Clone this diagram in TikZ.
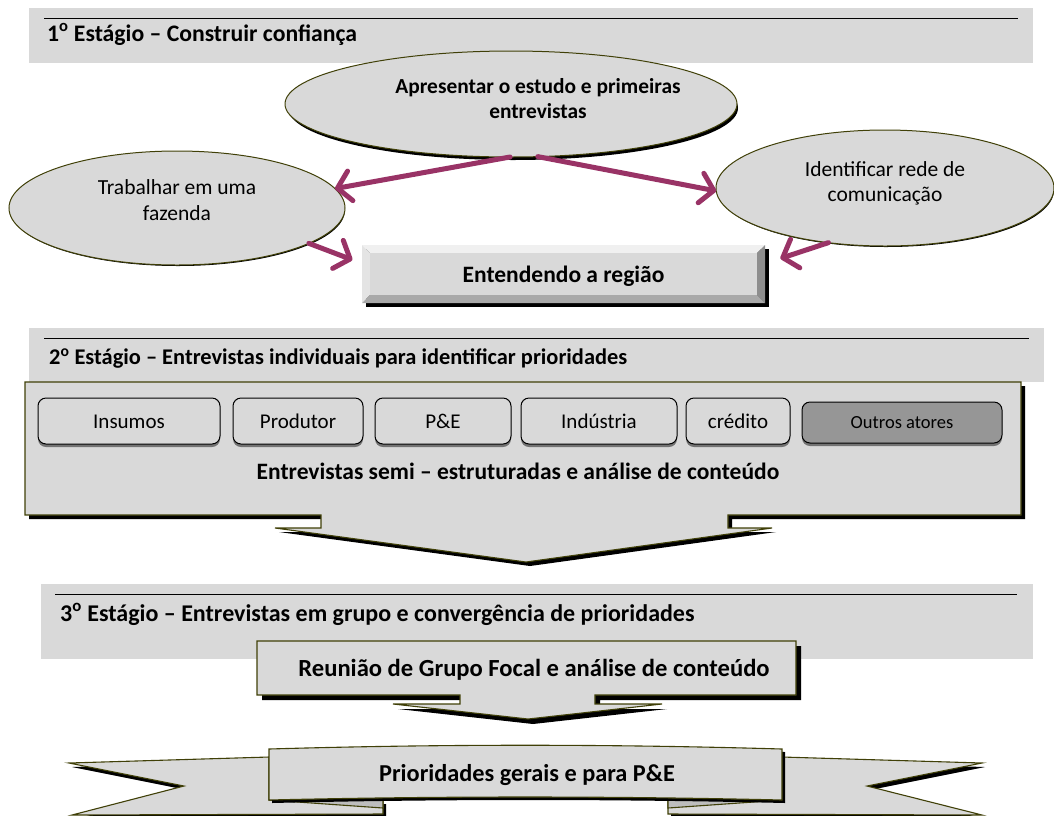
\documentclass[tikz,border=0pt]{standalone}
\usepackage{fontspec}
\setmainfont{Carlito}
\usetikzlibrary{arrows.meta,shapes.geometric}
\definecolor{bg}{HTML}{D9D9D9}
\definecolor{olv}{HTML}{404008}
\definecolor{plum}{HTML}{993366}
\definecolor{dkbox}{HTML}{969696}
\definecolor{bevtop}{HTML}{F0F0F0}
\definecolor{bevleft}{HTML}{E4E4E4}
\definecolor{bevright}{HTML}{8E8E8E}
\definecolor{bevbot}{HTML}{A9A9A9}
\definecolor{foldc}{HTML}{BDBDBD}
\begin{document}
\begin{tikzpicture}[x=1pt,y=-1pt,
  hdrtxt/.style={font=\fontsize{23.5}{28}\selectfont\bfseries, anchor=base west, inner sep=0pt},
  boldtxt/.style={font=\fontsize{23.5}{28}\selectfont\bfseries, inner sep=0pt},
  ell/.style={ellipse, draw=olv, line width=1pt, fill=bg, inner sep=0pt, outer sep=0pt},
  eltxt/.style={font=\fontsize{21.5}{26}\selectfont, anchor=base, inner sep=0pt},
  eltxtb/.style={font=\fontsize{21.4}{26}\selectfont\bfseries, anchor=base, inner sep=0pt},
  rbox/.style={draw=black, line width=1pt, rounded corners=8pt, fill=bg, inner sep=0pt,
    font=\fontsize{21}{25}\selectfont, text height=14pt, text depth=0pt,
    preaction={draw=none, fill=black!55, transform canvas={yshift=-3pt}}},
  conn/.style={draw=plum, line width=5pt, line cap=round,
    -{Straight Barb[length=13pt,width=30pt,round]}},
  blk/.style={fill=bg, draw=olv, line width=1.1pt, line join=miter},
  shad/.style={fill=black},
  band/.style={fill=bg},
  rule/.style={draw=black, line width=1pt}
]
\useasboundingbox (0,0) rectangle (1054,815);

% ---------- Stage 1 header ----------
\fill[band] (29,8) rectangle (1033,63);
\draw[rule] (44,18) -- (1018,18);
\node[hdrtxt, font=\fontsize{23.7}{28}\selectfont\bfseries] (h1) at (47,41) {1\textsuperscript{o} Estágio – Construir confiança};

% ---------- Ellipses ----------
\fill[shad] (513,108) ellipse [x radius=225, y radius=52];
\node[ell, minimum width=452pt, minimum height=106pt] (top) at (511,104) {};
\node[eltxtb] (topA) at (538,93) {Apresentar o estudo e primeiras};
\node[eltxtb] (topB) at (538,118) {entrevistas};

\fill[shad] (178,210) ellipse [x radius=167, y radius=56];
\node[ell, minimum width=336pt, minimum height=114pt] (left) at (177,208) {};
\node[eltxt] (leftA) at (177,194) {Trabalhar em uma};
\node[eltxt] (leftB) at (177,220) {fazenda};

\fill[shad] (886,190) ellipse [x radius=168, y radius=57];
\node[ell, minimum width=338pt, minimum height=116pt] (right) at (885,188) {};
\node[eltxt] (rightA) at (885,176) {Identificar rede de};
\node[eltxt] (rightB) at (885,201) {comunicação};

% ---------- Beveled box ----------
\fill[shad] (366,249) rectangle (769,307);
\fill[bevtop] (362,245) -- (765,245) -- (757,253) -- (370,253) -- cycle;
\fill[bevleft] (362,245) -- (370,253) -- (370,295) -- (362,303) -- cycle;
\fill[bevright] (765,245) -- (765,303) -- (757,295) -- (757,253) -- cycle;
\fill[bevbot] (362,303) -- (765,303) -- (757,295) -- (370,295) -- cycle;
\fill[bg] (370,253) rectangle (757,295);
\node[minimum width=403pt, minimum height=58pt, inner sep=0pt,
  font=\fontsize{23.5}{28}\selectfont\bfseries, text height=16pt, text depth=0pt] (ent) at (563.5,274) {Entendendo a região};

% ---------- Connectors ----------
\draw[conn] (top.269) -- (left.7);
\draw[conn] (top.297) -- (right.181);
\draw[conn, shorten >=10pt] (left.345) -- (ent.177);
\draw[conn, shorten >=16pt] (right.224) -- (ent.3);

% ---------- Stage 2 ----------
\fill[band] (29,328) rectangle (1044,382);
\draw[rule] (44,338) -- (1029,338);
\node[hdrtxt, font=\fontsize{22.4}{27}\selectfont\bfseries] (h2) at (49,364) {2\textsuperscript{o} Estágio – Entrevistas individuais para identificar prioridades};

\fill[shad] (29,386) -- (1025,386) -- (1025,519) -- (732,519) -- (732,532) -- (776,532) -- (530,566) -- (279,532) -- (325,532) -- (325,519) -- (29,519) -- cycle;
\filldraw[blk] (25,382) -- (1021,382) -- (1021,515) -- (728,515) -- (728,528) -- (772,528) -- (526,562) -- (275,528) -- (321,528) -- (321,515) -- (25,515) -- cycle;

\node[rbox, minimum width=182pt, minimum height=46pt] (b1) at (129,421) {Insumos};
\node[rbox, minimum width=130pt, minimum height=46pt] (b2) at (298,421) {Produtor};
\node[rbox, minimum width=136pt, minimum height=46pt] (b3) at (443,421) {P\&E};
\node[rbox, minimum width=156pt, minimum height=46pt] (b4) at (599,421) {Indústria};
\node[rbox, minimum width=104pt, minimum height=46pt] (b5) at (738,421) {crédito};
\node[rbox, fill=dkbox, minimum width=200pt, minimum height=41pt,
  font=\fontsize{18.5}{22}\selectfont, text height=12pt] (b6) at (902,422.5) {Outros atores};

\node[boldtxt, anchor=base] (s2) at (518,479) {Entrevistas semi – estruturadas e análise de conteúdo};

% ---------- Stage 3 ----------
\fill[band] (41,584) rectangle (1033,659);
\draw[rule] (55,594) -- (1017,594);
\node[hdrtxt, font=\fontsize{24}{28}\selectfont\bfseries] (h3) at (60,621) {3\textsuperscript{o} Estágio – Entrevistas em grupo e convergência de prioridades};

\fill[shad] (262,646) -- (801,646) -- (801,700) -- (600,700) -- (600,709) -- (667,709) -- (533,724) -- (398,709) -- (465,709) -- (465,700) -- (262,700) -- cycle;
\filldraw[blk] (257,641) -- (796,641) -- (796,695) -- (595,695) -- (595,704) -- (662,704) -- (528,719) -- (393,704) -- (460,704) -- (460,695) -- (257,695) -- cycle;
\node[boldtxt, anchor=base, font=\fontsize{24.6}{28}\selectfont\bfseries] (s3) at (534,676) {Reunião de Grupo Focal e análise de conteúdo};

% ---------- Ribbon ----------
\fill[shad] (272,761) -- (72,767) -- (187,790) -- (75,819) -- (386,818) -- (386,804) -- (272,804) -- cycle;
\fill[shad] (785,761) -- (985,767) -- (870,790) -- (985,819) -- (671,818) -- (671,804) -- (785,804) -- cycle;
\filldraw[blk] (269,757) -- (69,763) -- (184,786) -- (72,815) -- (383,814) -- (383,800) -- (269,800) -- cycle;
\filldraw[blk] (782,757) -- (982,763) -- (867,786) -- (982,815) -- (668,814) -- (668,800) -- (782,800) -- cycle;
\filldraw[blk, fill=foldc] (269,800) -- (383,800) -- (383,808) -- cycle;
\filldraw[blk, fill=foldc] (782,800) -- (668,800) -- (668,808) -- cycle;
\fill[shad] (272,752) .. controls (443,747) and (613,747) .. (785,752) -- (785,803) .. controls (613,799) and (443,799) .. (272,803) -- cycle;
\filldraw[blk] (269,749) .. controls (440,744) and (610,744) .. (782,749) -- (782,800) .. controls (610,796) and (440,796) .. (269,800) -- cycle;
\node[boldtxt, anchor=base, font=\fontsize{24.3}{28}\selectfont\bfseries] (s4) at (527,781) {Prioridades gerais e para P\&E};

\end{tikzpicture}
\end{document}
